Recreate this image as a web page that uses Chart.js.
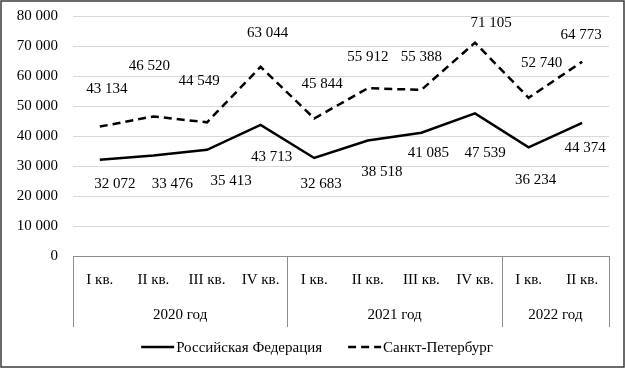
<!DOCTYPE html>
<html>
<head>
<meta charset="utf-8">
<script src="https://cdn.jsdelivr.net/npm/chart.js@4.4.1/dist/chart.umd.min.js"></script>
<style>
  html, body { margin: 0; padding: 0; background: #fff; }
  #wrap { width: 625px; height: 368px; position: relative; }
</style>
</head>
<body>
<div id="wrap"><canvas id="c" width="625" height="368"></canvas></div>
<script>
// ---- data ----
const quarters = ['I кв.', 'II кв.', 'III кв.', 'IV кв.', 'I кв.', 'II кв.', 'III кв.', 'IV кв.', 'I кв.', 'II кв.'];
const years = ['2020 год', '2021 год', '2022 год'];
const yearSpans = [4, 4, 2];
const russia = [32072, 33476, 35413, 43713, 32683, 38518, 41085, 47539, 36234, 44374];
const spb = [43134, 46520, 44549, 63044, 45844, 55912, 55388, 71105, 52740, 64773];
const seriesNames = ['Российская Федерация', 'Санкт-Петербург'];
const yMin = 0, yMax = 80000, yStep = 10000;

// ---- label placement (style: offset of each value label from its point, px) ----
const russiaLabelOffsets = [[15, 24], [19, 28], [24, 31], [11, 32], [7, 26], [14, 32], [7, 20], [10, 40], [7, 33], [3, 25]];
const spbLabelOffsets = [[7, -38], [-4, -50], [-8, -41], [7, -34], [8, -34], [0, -31], [0, -33], [16, -20], [13, -35], [-1, -27]];

const FONT = '"Liberation Serif", "Times New Roman", serif';
const fmt = v => String(v).replace(/\B(?=(\d{3})+(?!\d))/g, '\u00A0');

const decorPlugin = {
  id: 'decor',
  afterDatasetsDraw(chart) {
    const ctx = chart.ctx;
    const xs = chart.scales.x;
    const area = chart.chartArea;
    ctx.save();
    // value labels
    ctx.font = '15px ' + FONT;
    ctx.fillStyle = '#000';
    ctx.textAlign = 'center';
    ctx.textBaseline = 'middle';
    const offs = [russiaLabelOffsets, spbLabelOffsets];
    chart.data.datasets.forEach((ds, di) => {
      const meta = chart.getDatasetMeta(di);
      meta.data.forEach((pt, i) => {
        const o = offs[di][i];
        ctx.fillText(fmt(ds.data[i]), pt.x + o[0], pt.y + o[1]);
      });
    });

    // category box
    const half = (xs.getPixelForValue(1) - xs.getPixelForValue(0)) / 2;
    const top = area.bottom;
    const boxBottom = top + 71;
    ctx.strokeStyle = '#8c8c8c';
    ctx.lineWidth = 1;
    ctx.beginPath();
    ctx.moveTo(area.left, top + 0.5);
    ctx.lineTo(area.right, top + 0.5);
    let idx = 0;
    const bounds = [xs.getPixelForValue(0) - half];
    yearSpans.forEach(n => { idx += n; bounds.push(xs.getPixelForValue(idx - 1) + half); });
    bounds.forEach(b => {
      const bx = Math.round(b) + 0.5;
      ctx.moveTo(bx, top);
      ctx.lineTo(bx, boxBottom);
    });
    ctx.stroke();

    // year labels
    ctx.fillStyle = '#000';
    years.forEach((y, i) => {
      ctx.fillText(y, (bounds[i] + bounds[i + 1]) / 2, top + 59);
    });

    // legend
    const ly = 347;
    const lineLen = 33, gapText = 2, gapItems = 26;
    const widths = seriesNames.map(n => ctx.measureText(n).width);
    const total = widths.reduce((a, w) => a + lineLen + gapText + w, 0) + gapItems;
    let lx = 317 - total / 2;
    ctx.textAlign = 'left';
    chart.data.datasets.forEach((ds, di) => {
      ctx.strokeStyle = ds.borderColor;
      ctx.lineWidth = ds.borderWidth;
      ctx.setLineDash(ds.borderDash || []);
      ctx.beginPath();
      ctx.moveTo(lx, ly);
      ctx.lineTo(lx + lineLen, ly);
      ctx.stroke();
      ctx.setLineDash([]);
      ctx.fillText(seriesNames[di], lx + lineLen + gapText, ly + 1);
      lx += lineLen + gapText + widths[di] + gapItems;
    });

    // outer frame
    ctx.strokeStyle = '#3a3a3a';
    ctx.lineWidth = 1.5;
    ctx.strokeRect(1, 1, chart.width - 2, chart.height - 2);
    ctx.restore();
  }
};

new Chart(document.getElementById('c'), {
  type: 'line',
  data: {
    labels: quarters,
    datasets: [
      { label: seriesNames[0], data: russia, borderColor: '#000', borderWidth: 2.5, pointRadius: 0, tension: 0, fill: false },
      { label: seriesNames[1], data: spb, borderColor: '#000', borderWidth: 2.5, borderDash: [8, 5], pointRadius: 0, tension: 0, fill: false }
    ]
  },
  options: {
    responsive: false,
    animation: false,
    devicePixelRatio: 1,
    layout: { padding: { top: 16, right: 16, left: 0, bottom: 0 } },
    plugins: { legend: { display: false }, tooltip: { enabled: false } },
    scales: {
      x: {
        offset: true,
        grid: { display: false, offset: true },
        border: { display: false },
        ticks: { color: '#000', font: { family: FONT, size: 15 }, padding: 7, maxRotation: 0, autoSkip: false },
        afterFit(s) { s.height = 112; s.paddingLeft = 0; s.paddingRight = 0; }
      },
      y: {
        min: yMin, max: yMax,
        grid: { color: '#d9d9d9', drawTicks: false },
        border: { display: false },
        ticks: { stepSize: yStep, color: '#000', font: { family: FONT, size: 15 }, padding: 15, callback: v => fmt(v) },
        afterFit(s) { s.width = 73; s.paddingTop = 0; s.paddingBottom = 0; }
      }
    }
  },
  plugins: [decorPlugin]
});
</script>
</body>
</html>
